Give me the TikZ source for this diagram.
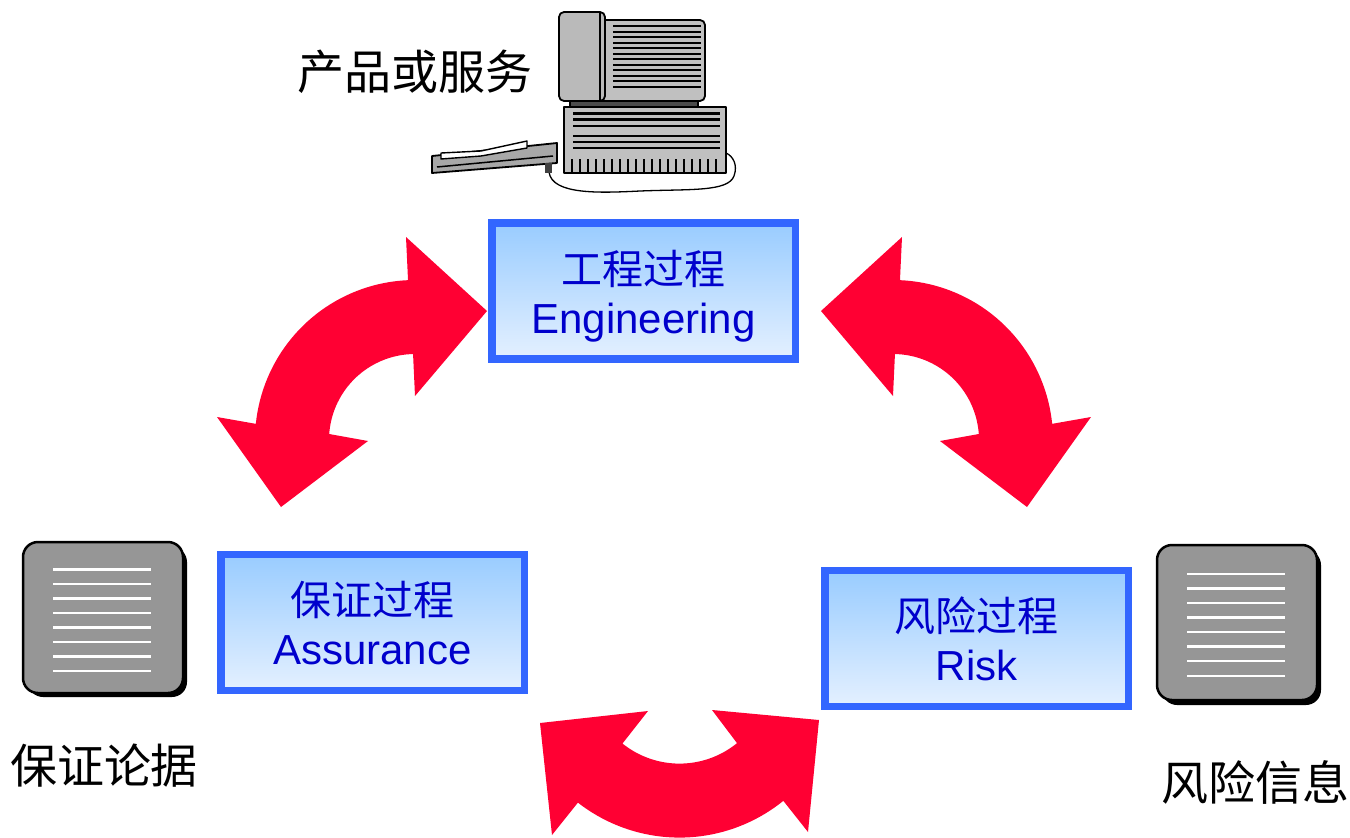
\documentclass[tikz,border=0pt]{standalone}
\usepackage{fontspec}
\setmainfont{Liberation Sans}
\newfontfamily\cjk{Noto Sans CJK SC}
\usetikzlibrary{calc}

\definecolor{arrowred}{HTML}{FF0033}
\definecolor{boxblue}{HTML}{3366FF}
\definecolor{boxtop}{HTML}{99CCFF}
\definecolor{boxbot}{HTML}{E4F0FF}
\definecolor{textblue}{HTML}{0000CC}
\definecolor{docgray}{HTML}{969696}
\definecolor{pcgray}{HTML}{C0C0C0}
\definecolor{pcdark}{HTML}{A8A8A8}

\tikzset{
  procbox/.style={draw=boxblue, line width=7.5pt, top color=boxtop, bottom color=boxbot,
    minimum width=303.5pt, minimum height=136pt, inner sep=0pt},
  cjktext/.style={font=\cjk\fontsize{41}{41}\selectfont, text=textblue, inner sep=0pt},
  lattext/.style={font=\fontsize{42}{42}\selectfont, text=textblue, inner sep=0pt, anchor=base},
  caption/.style={font=\cjk\fontsize{47}{47}\selectfont, text=black, inner sep=0pt},
  bigarrow/.style={fill=arrowred, draw=none},
  docface/.style={fill=docgray, draw=black, line width=2.5pt, rounded corners=15pt},
  docshadow/.style={fill=black, rounded corners=15pt},
  docline/.style={draw=white, line width=2.8pt},
  pcpart/.style={draw=black, line width=1.8pt, line join=round},
}

\begin{document}
\begin{tikzpicture}[x=1pt, y=-1pt]
\useasboundingbox (0,0) rectangle (1350,838);

% ---------- curved double arrows ----------
% upper left: Engineering <-> Assurance
\path[bigarrow] (487,311) -- (415,396)
  -- plot[domain=268.7:184, samples=40] ({415+86*cos(\x)},{440+86*sin(\x)})
  -- (368,441) -- (281,507) -- (217,417)
  -- plot[domain=185.8:267.5, samples=40] ({415+160*cos(\x)},{440+160*sin(\x)})
  -- (406,237) -- cycle;
% upper right: Engineering <-> Risk
\path[bigarrow] (821,311) -- (893,396)
  -- plot[domain=-88.7:-4, samples=40] ({893+86*cos(\x)},{440+86*sin(\x)})
  -- (940,441) -- (1027,507) -- (1091,417)
  -- plot[domain=-5.8:-87.5, samples=40] ({893+160*cos(\x)},{440+160*sin(\x)})
  -- (902,237) -- cycle;
% bottom: Assurance <-> Risk
\path[bigarrow] (540,723) -- (648,711)
  -- plot[domain=128.8:50.8, samples=40] ({679.5+91*cos(\x)},{672.6+91*sin(\x)})
  -- (712,710) -- (819,720) -- (808,832)
  -- plot[domain=51:128, samples=40] ({679.5+165*cos(\x)},{672.6+165*sin(\x)})
  -- (552,835) -- cycle;

% ---------- process boxes ----------
\node[procbox] (eng) at (643.5,291) {};
\node[cjktext] (engzh) at ($(eng.center)+(0,-22.5)$) {工程过程};
\node[lattext] (engen) at ($(eng.center)+(0,42)$) {Engineering};

\node[procbox] (ass) at (372.5,622.5) {};
\node[cjktext] (asszh) at ($(ass.center)+(0,-22.5)$) {保证过程};
\node[lattext] (assen) at ($(ass.center)+(0,42)$) {Assurance};

\node[procbox] (risk) at (976.5,638.5) {};
\node[cjktext] (riskzh) at ($(risk.center)+(0,-22.5)$) {风险过程};
\node[lattext] (risken) at ($(risk.center)+(0,42)$) {Risk};

% ---------- document icons ----------
\fill[docshadow] (28,547) rectangle (187,697);
\draw[docface] (23,542) rectangle (183,693);
\foreach \yy in {569.5,584,598.5,613,627.5,642,656.5,671}
  \draw[docline] (53,\yy) -- (151,\yy);

\fill[docshadow] (1162,550) rectangle (1321,705);
\draw[docface] (1157,545) rectangle (1317,700);
\foreach \yy in {574,588.5,603,617.5,632,646.5,661,676}
  \draw[docline] (1187,\yy) -- (1285,\yy);

% ---------- computer ----------
% cable
\draw[black, line width=1.3pt] (549,172) .. controls (552,195) and (600,193) .. (640,191)
  .. controls (690,189) and (728,192) .. (734,176)
  .. controls (738,165) and (733,156) .. (726,153);
% keyboard
\draw[pcpart, fill=pcdark] (432,156) -- (557,143) -- (557,163) -- (432,173) -- cycle;
\draw[black, line width=1.5pt] (437,167) -- (553,156);
\draw[pcpart, fill=white, line width=1.4pt] (441,153) -- (481,151) -- (527,141) -- (527,148) -- (481,156) -- (441,159) -- cycle;
\fill[black!75] (545,163) rectangle (552,173);
% monitor stand
\draw[pcpart, fill=black!70] (570,99) rectangle (698,107);
% system unit
\draw[pcpart, fill=pcgray] (564,107) rectangle (726,173);
\foreach \yy in {113.5,119.5,126,136,142,148}
  \draw[black, line width=2.3pt] (573,\yy) -- (720,\yy);
\foreach \xx in {0,...,18}
  \draw[black, line width=1.5pt] ({572+8*\xx},159) -- ({572+8*\xx},172);
% monitor
\draw[pcpart, fill=pcgray, rounded corners=5pt] (600,20) -- (705,20) -- (705,101) -- (600,101);
\draw[pcpart, fill=pcgray!110, rounded corners=5pt] (559,12) rectangle (605,101);
\draw[black, line width=1.2pt] (600,12) -- (600,101);
\foreach \yy in {26,31.5,37,42.5,48,53.5,59,64.5,70,75.5,81,86.5}
  \draw[black, line width=2pt] (613,\yy) -- (701,\yy);

% ---------- captions ----------
\node[caption] (product) at (415,72) {产品或服务};
\node[caption] (argument) at (104,766) {保证论据};
\node[caption] (riskinfo) at (1255,782) {风险信息};
\end{tikzpicture}
\end{document}
